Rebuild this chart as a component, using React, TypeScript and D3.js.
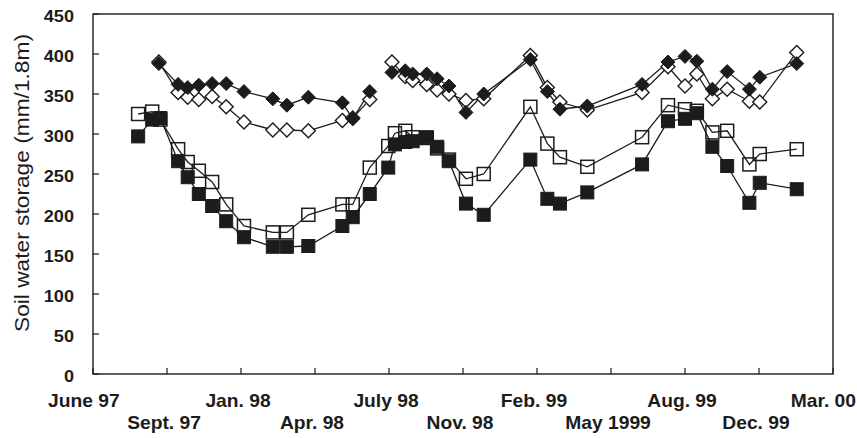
import React from "react";
import * as d3 from "d3";

// x positions: days since 1 June 1997 (axis ticks every 100 days)
const tickLabels = ["June 97", "Sept. 97", "Jan. 98", "Apr. 98", "July 98", "Nov. 98", "Feb. 99", "May 1999", "Aug. 99", "Dec. 99", "Mar. 00"];
const yTicks = [0, 50, 100, 150, 200, 250, 300, 350, 400, 450];

const squareDays = [61, 80, 91, 115, 128, 143, 161, 180, 204, 243, 262, 291, 337, 351, 374, 399, 408, 422, 432, 451, 465, 481, 504, 528, 591, 614, 631, 668, 742, 777, 800, 816, 837, 857, 887, 901, 951];
const openSquare = [325, 328, 318, 281, 265, 254, 240, 212, 185, 177, 177, 199, 212, 212, 258, 285, 301, 304, 296, 295, 282, 268, 244, 250, 334, 288, 271, 259, 296, 336, 331, 329, 302, 304, 262, 275, 281];
const filledSquare = [297, 318, 320, 266, 246, 225, 210, 191, 171, 159, 159, 160, 185, 196, 225, 258, 287, 290, 291, 296, 284, 266, 213, 199, 268, 219, 213, 227, 262, 316, 319, 326, 284, 260, 214, 239, 231];

const diamondDays = [89, 115, 128, 143, 161, 180, 204, 243, 262, 291, 337, 351, 374, 390, 404, 422, 432, 451, 465, 481, 504, 528, 591, 614, 631, 668, 742, 777, 800, 816, 837, 857, 887, 901, 951];
const filledDiamond: (number | null)[] = [388, 362, 358, 361, 363, 363, 353, 344, 336, 346, 339, 319, 353, null, 377, 379, 375, 375, 369, 360, 327, 350, 393, 353, 331, 335, 362, 390, 397, 391, 356, 378, 356, 371, 388];
const openDiamond: (number | null)[] = [390, 352, 346, 343, 347, 334, 315, 305, 305, 304, 317, 320, 343, null, 390, 372, 367, 362, 355, 350, 342, 344, 398, 358, 340, 330, 352, 384, 360, 375, 344, 356, 341, 340, 402];

type Pt = { x: number; y: number | null };

export default function App() {
  const W = 857, H = 438;
  const left = 93, right = 833, top = 14, bottom = 374;
  const x = d3.scaleLinear().domain([0, 1000]).range([left, right]);
  const y = d3.scaleLinear().domain([0, 450]).range([bottom, top]);
  const ink = "#1c1c1c";
  const font = "'Liberation Sans', Arial, sans-serif";

  const zip = (xs: number[], ys: (number | null)[]): Pt[] => xs.map((d, i) => ({ x: d, y: ys[i] }));
  const line = d3
    .line<Pt>()
    .defined((d) => d.y != null)
    .x((d) => x(d.x))
    .y((d) => y(d.y as number));

  const sqOpen = zip(squareDays, openSquare);
  const sqFill = zip(squareDays, filledSquare);
  const diFill = zip(diamondDays, filledDiamond);
  const diOpen = zip(diamondDays, openDiamond);

  const sq = 13;
  const dm = 7;
  const diamondPath = (cx: number, cy: number) => `M${cx},${cy - dm}L${cx + dm},${cy}L${cx},${cy + dm}L${cx - dm},${cy}Z`;
  const sx = 1.1;

  return (
    <svg width={W} height={H} style={{ position: "absolute", left: 0, top: 0, background: "#fff" }}>
      <rect x={0} y={0} width={W} height={H} fill="#fff" />
      {/* frame */}
      <rect x={left} y={top} width={right - left} height={bottom - top} fill="none" stroke={ink} strokeWidth={1.4} />
      {/* y ticks */}
      {yTicks.map((t) => (
        <g key={"y" + t}>
          <line x1={left} x2={left + 6} y1={y(t)} y2={y(t)} stroke={ink} strokeWidth={1.2} />
          <text transform={`translate(74,${y(t) + 2}) scale(${sx},1)`} dy="0.35em" textAnchor="end" fontFamily={font} fontWeight="bold" fontSize={16.5} fill={ink}>
            {t}
          </text>
        </g>
      ))}
      {/* x ticks */}
      {tickLabels.map((lab, i) => {
        const last = i === tickLabels.length - 1;
        const first = i === 0;
        const tx = first ? 48 : last ? 856 : x(i * 100) - 3;
        const anchor = first ? "start" : last ? "end" : "middle";
        return (
          <g key={"x" + i}>
            <line x1={x(i * 100)} x2={x(i * 100)} y1={bottom} y2={bottom - 6} stroke={ink} strokeWidth={1.2} />
            <text transform={`translate(${tx},${i % 2 === 0 ? 407 : 429}) scale(${sx},1)`} textAnchor={anchor} fontFamily={font} fontWeight="bold" fontSize={17.5} fill={ink}>
              {lab}
            </text>
          </g>
        );
      })}
      <text transform={`translate(29,183) rotate(-90)`} textAnchor="middle" fontFamily={font} fontSize={20} textLength={298} lengthAdjust="spacingAndGlyphs" fill={ink}>
        Soil water storage (mm/1.8m)
      </text>

      {/* lines */}
      <path d={line(sqOpen) || ""} fill="none" stroke={ink} strokeWidth={1.3} />
      <path d={line(sqFill) || ""} fill="none" stroke={ink} strokeWidth={1.3} />
      <path d={line(diOpen) || ""} fill="none" stroke={ink} strokeWidth={1.3} />
      <path d={line(diFill) || ""} fill="none" stroke={ink} strokeWidth={1.3} />

      {/* markers */}
      {sqOpen.map((d, i) => (
        <rect key={"so" + i} x={x(d.x) - sq / 2} y={y(d.y as number) - sq / 2} width={sq} height={sq} fill="none" stroke={ink} strokeWidth={1.5} />
      ))}
      {sqFill.map((d, i) => (
        <rect key={"sf" + i} x={x(d.x) - sq / 2} y={y(d.y as number) - sq / 2} width={sq} height={sq} fill={ink} stroke={ink} strokeWidth={1} />
      ))}
      {diOpen.filter((d) => d.y != null).map((d, i) => (
        <path key={"do" + i} d={diamondPath(x(d.x), y(d.y as number))} fill="#fff" stroke={ink} strokeWidth={1.4} />
      ))}
      {diFill.filter((d) => d.y != null).map((d, i) => (
        <path key={"df" + i} d={diamondPath(x(d.x), y(d.y as number))} fill={ink} stroke={ink} strokeWidth={1} />
      ))}
    </svg>
  );
}
